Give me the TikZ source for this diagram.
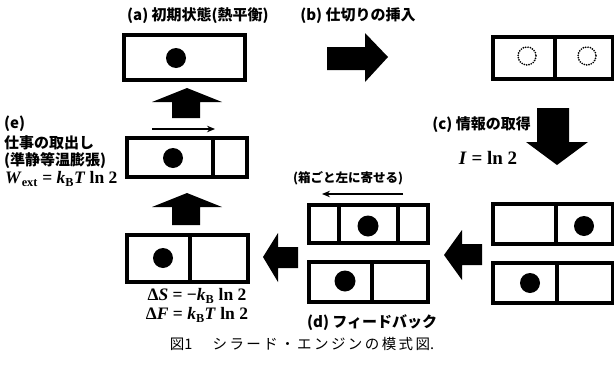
\documentclass[tikz,border=0pt]{standalone}
\usepackage{fontspec}
\setmainfont{Liberation Serif}
\newfontfamily\jp{Noto Sans CJK JP}
\newfontfamily\tnr{Liberation Serif}
\usetikzlibrary{arrows.meta}
\tikzset{
  box/.style={draw=black, line width=3.3pt, fill=white},
  part/.style={line width=3.3pt},
  ball/.style={fill=black},
  blockarrow/.style={fill=black},
  lbl/.style={font=\jp\bfseries\fontsize{15}{17}\selectfont, inner sep=0pt},
  small/.style={font=\jp\bfseries\fontsize{12.5}{14}\selectfont, inner sep=0pt},
  eq/.style={font=\tnr\bfseries\fontsize{17.5}{19}\selectfont, inner sep=0pt},
  dots/.style={line width=1.9pt, dash pattern=on 0pt off 2.4pt, line cap=round},
  thinarrow/.style={line width=1.5pt, -{Stealth[length=8pt,width=6.5pt]}}
}
\begin{document}
\begin{tikzpicture}[x=1pt,y=-1pt]
\useasboundingbox (0,0) rectangle (614,378);

% (a)
\node[lbl] (ta) at (198,16) {(a) 初期状態(熱平衡)};
\draw[box] (124,35) rectangle (245,80);
\fill[ball] (176,58) circle (10);

% (b)
\node[lbl] (tb) at (358,16) {(b) 仕切りの挿入};
\fill[blockarrow] (327,47) -- (365,47) -- (365,33) -- (388,57) -- (365,82) -- (365,70) -- (327,70) -- cycle;
\draw[box] (493,37) rectangle (613,79);
\draw[part] (555,37) -- (555,79);
\draw[dots] (527,56) circle (9);
\draw[dots] (587,56) circle (9);

% (c)
\node[lbl, anchor=east] (tc) at (531,125) {(c) 情報の取得};
\fill[blockarrow] (537,108) -- (569,108) -- (569,142) -- (588,142) -- (557,165) -- (526,142) -- (537,142) -- cycle;
\node[eq, font=\tnr\bfseries\fontsize{19}{21}\selectfont] (info) at (488,158) {\textit{I} = ln 2};
\draw[box] (493,204) rectangle (613,244);
\draw[part] (556,204) -- (556,244);
\fill[ball] (584,226) circle (10);
\draw[box] (493,263) rectangle (613,303);
\draw[part] (557,263) -- (557,303);
\fill[ball] (530,283) circle (10);

% arrow c -> d
\fill[blockarrow] (444,255) -- (462,230) -- (462,244) -- (482,244) -- (482,265) -- (462,265) -- (462,280) -- cycle;

% (d)
\node[small] (tpush) at (348,178) {(箱ごと左に寄せる)};
\coordinate (pushS) at (403,194);
\coordinate (pushE) at (322,194);
\draw[thinarrow] (pushS) -- (pushE);
\draw[box] (309,205) rectangle (428,243);
\draw[part] (339,205) -- (339,243);
\draw[part] (398,205) -- (398,243);
\fill[ball] (368,226) circle (10.5);
\draw[box] (309,262) rectangle (428,302);
\draw[part] (372,262) -- (372,302);
\fill[ball] (345,281) circle (10.5);
\node[lbl, anchor=west] (td) at (307,323) {(d) フィードバック};

% arrow d -> f
\fill[blockarrow] (263,257) -- (278,233) -- (278,247) -- (298,247) -- (298,268) -- (278,268) -- (278,282) -- cycle;

% bottom-left box
\draw[box] (127,235) rectangle (248,282);
\draw[part] (190,235) -- (190,282);
\fill[ball] (163,258) circle (10);
\node[eq] (dS) at (197,296) {Δ\textit{S} = −\textit{k}\textsubscript{B} ln 2};
\node[eq] (dF) at (197,315) {Δ\textit{F} = \textit{k}\textsubscript{B}\textit{T} ln 2};

% arrow f -> e
\fill[blockarrow] (172,225) -- (172,207) -- (152,207) -- (187,193) -- (222,207) -- (200,207) -- (200,225) -- cycle;

% (e)
\coordinate (expS) at (152,129);
\coordinate (expE) at (215,129);
\draw[thinarrow] (expS) -- (expE);
\draw[box] (127,138) rectangle (247,177);
\draw[part] (213,138) -- (213,177);
\fill[ball] (173,158) circle (10);
\node[lbl, anchor=west] (te1) at (4,124) {(e)};
\node[lbl, anchor=west] (te2) at (4,143) {仕事の取出し};
\node[lbl, anchor=west] (te3) at (4,161) {(準静等温膨張)};
\node[eq, anchor=west] (te4) at (5,179) {\textit{W}\textsubscript{ext} = \textit{k}\textsubscript{B}\textit{T} ln 2};

% arrow e -> a
\fill[blockarrow] (172,118) -- (172,102) -- (152,102) -- (187,88) -- (222,102) -- (200,102) -- (200,118) -- cycle;

% caption
\node[font=\jp\fontsize{14.5}{16}\selectfont, inner sep=0pt] (cap) at (302,344) {図1\quad\, シ\,ラ\,ー\,ド\,・\,エ\,ン\,ジ\,ン\,の\,模\,式\,図.};
\end{tikzpicture}
\end{document}
